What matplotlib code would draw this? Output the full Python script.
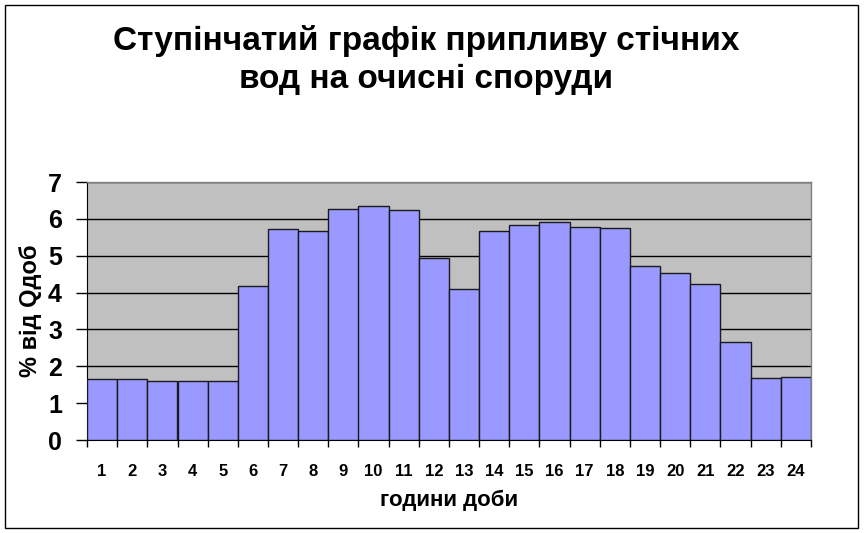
import matplotlib
matplotlib.use("Agg")
import matplotlib.pyplot as plt
from matplotlib.patches import Rectangle

hours = list(range(1, 25))
values = [1.66, 1.66, 1.61, 1.61, 1.61, 4.18, 5.73, 5.67, 6.27, 6.35, 6.24, 4.94,
          4.10, 5.66, 5.84, 5.92, 5.78, 5.75, 4.72, 4.53, 4.24, 2.66, 1.69, 1.72]
title = "Ступінчатий графік припливу стічних\nвод на очисні споруди"
xlabel = "години доби"
ylabel = "% від Qдоб"

plt.rcParams['font.family'] = ['Liberation Sans', 'DejaVu Sans']

W, H = 864, 533
fig = plt.figure(figsize=(W / 100, H / 100), dpi=100)
fig.patch.set_facecolor('white')

# outer frame
fig.patches.append(Rectangle((5 / W, 1 - 528 / H), 853 / W, 523 / H, transform=fig.transFigure,
                             fill=False, edgecolor='black', linewidth=1.0))

left, right, top, bottom = 87, 811, 182, 440
ax = fig.add_axes([left / W, 1 - bottom / H, (right - left) / W, (bottom - top) / H])
ax.set_facecolor('#c0c0c0')

ax.bar(hours, values, width=1.0, color='#9999ff', edgecolor='#1a1a1a', linewidth=1.0, zorder=3)
ax.set_xlim(0.5, 24.5)
ax.set_ylim(0, 7)
ax.set_yticks(range(0, 8))
ax.yaxis.grid(True, color='black', linewidth=1.0, zorder=0)
ax.set_axisbelow(True)

ax.set_xticks(hours)
ax.set_xticklabels([str(h) for h in hours], fontsize=12, fontweight='bold')
ax.set_xticks([h + 0.5 for h in [0] + hours], minor=True)
ax.tick_params(axis='x', which='major', length=0, pad=17)
ax.tick_params(axis='x', which='minor', length=5, width=1, direction='out')
ax.tick_params(axis='y', length=8, width=1, direction='out', labelsize=18, pad=10)
for lab in ax.get_yticklabels():
    lab.set_fontweight('bold')

for s in ['top', 'right']:
    ax.spines[s].set_color('#808080')
    ax.spines[s].set_linewidth(1.0)
ax.spines['left'].set_color('black')
ax.spines['bottom'].set_color('black')

ax.set_xlabel(xlabel, fontsize=16, fontweight='bold', labelpad=8)
ax.set_ylabel(ylabel, fontsize=17, fontweight='bold', labelpad=4)

fig.text(426 / W, 1 - 60 / H, title, ha='center', va='center', fontsize=24, fontweight='bold',
         linespacing=1.25)

fig.savefig("out.png", dpi=100, facecolor='white')
